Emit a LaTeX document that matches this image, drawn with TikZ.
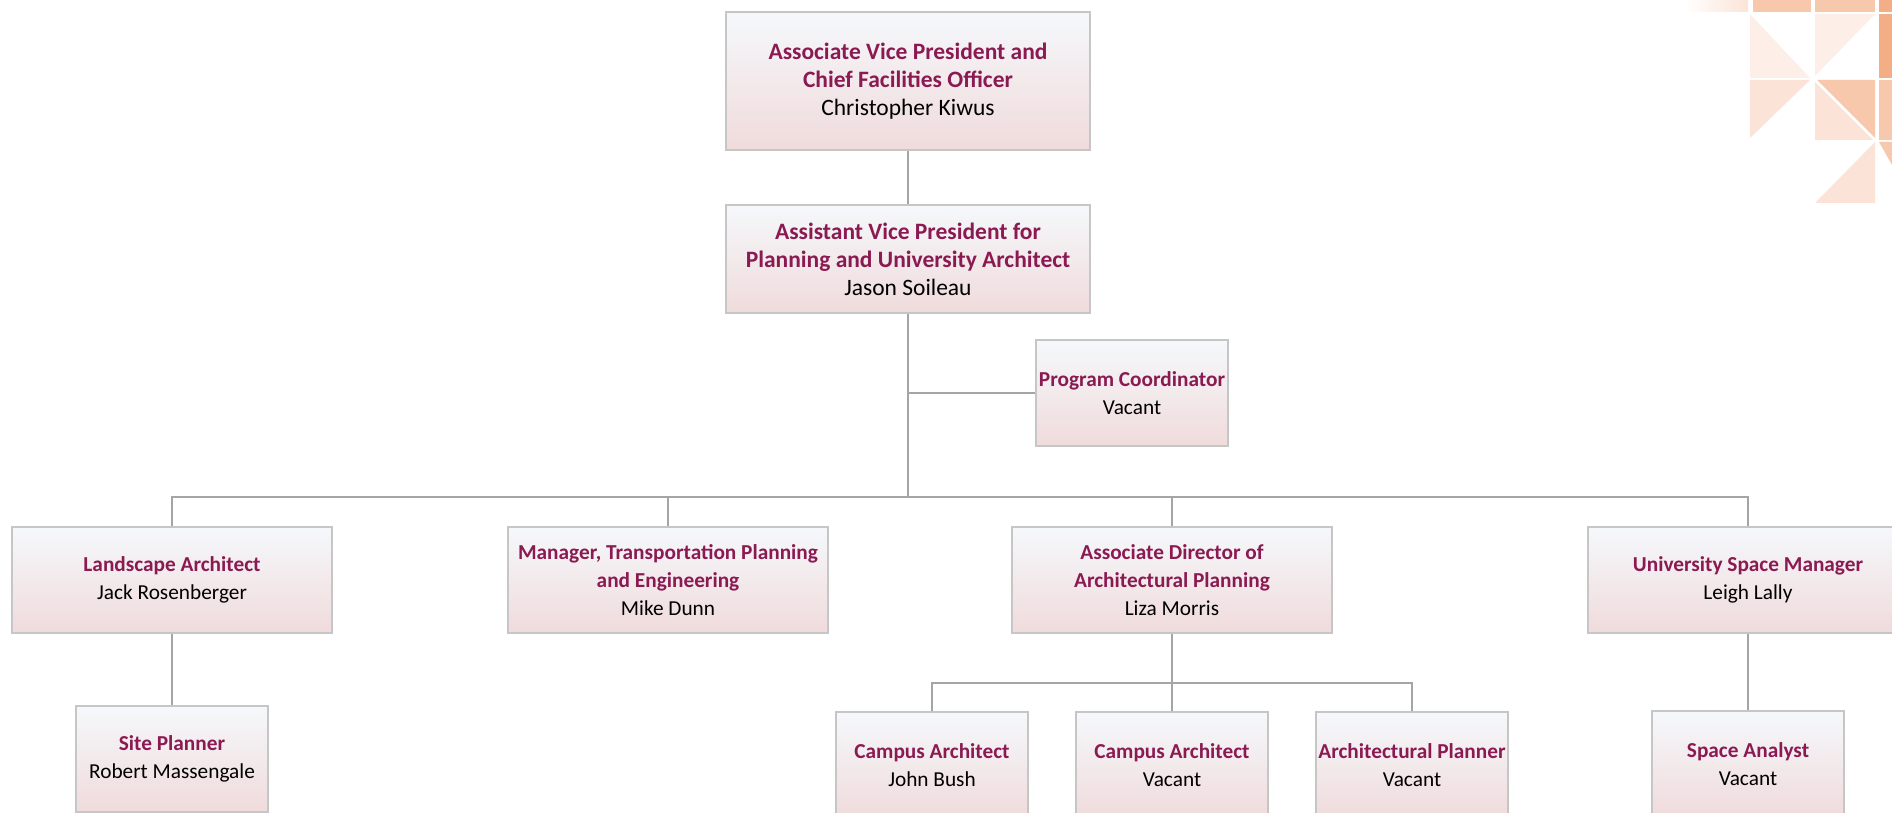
\documentclass[tikz,border=0pt]{standalone}
\usepackage{fontspec}
\setmainfont{Carlito}
\definecolor{ttlcol}{RGB}{139,26,82}
\definecolor{boxgray}{RGB}{198,198,198}
\definecolor{linegray}{RGB}{165,165,165}
\definecolor{boxtop}{RGB}{245,248,251}
\definecolor{boxbot}{RGB}{240,219,220}
\definecolor{orS}{RGB}{244,174,134}
\definecolor{orM}{RGB}{248,200,172}
\definecolor{orL}{RGB}{251,228,215}
\definecolor{orX}{RGB}{253,239,232}
\newcommand{\ttl}[1]{\textcolor{ttlcol}{\bfseries #1}}
\begin{document}
\begin{tikzpicture}[x=1pt,y=-1pt,
  box/.style={draw=boxgray, line width=2pt, top color=boxtop, bottom color=boxbot,
    align=center, inner sep=0pt, font=\fontsize{21.3}{28}\selectfont},
  wide/.style={box, minimum width=364pt, font=\fontsize{23.5}{28}\selectfont},
  mid/.style={box, minimum width=320pt, minimum height=106pt},
  small/.style={box, minimum width=192pt, minimum height=106pt},
  conn/.style={draw=linegray, line width=2pt}]
\useasboundingbox (0,0) rectangle (1892,813);
\clip (0,0) rectangle (1892,813);
\fill[white] (0,0) rectangle (1892,813);

% decoration top right
\shade[left color=white, right color=orL] (1685,0) rectangle (1748,12);
\fill[orM] (1753,0) rectangle (1811,12);
\fill[orM] (1815,0) rectangle (1875,12);
\fill[orS] (1879,0) rectangle (1892,12);
\fill[orX] (1750,14) -- (1750,78) -- (1810,78) -- cycle;
\fill[orX] (1815,14) -- (1875,14) -- (1815,76) -- cycle;
\fill[orS] (1879,14) -- (1892,14) -- (1892,78) -- (1879,78) -- cycle;
\fill[orL] (1750,80) -- (1810,80) -- (1750,138) -- cycle;
\fill[orM] (1817,80) -- (1875,80) -- (1875,138) -- cycle;
\fill[orL] (1815,82) -- (1815,140) -- (1873,140) -- cycle;
\fill[orM] (1879,80) -- (1892,80) -- (1892,140) -- (1879,140) -- cycle;
\fill[orL] (1875,142) -- (1875,203) -- (1815,203) -- cycle;
\fill[orM] (1879,142) -- (1892,142) -- (1892,165) -- cycle;

% nodes
\node[wide, minimum height=138pt] (avp) at (908,81)
  {\ttl{Associate Vice President and}\\ \ttl{Chief Facilities Officer}\\ Christopher Kiwus};
\node[wide, minimum height=107pt] (asst) at (908,259)
  {\ttl{Assistant Vice President for}\\ \ttl{Planning and University Architect}\\ Jason Soileau};
\node[small] (pc) at (1132,393) {\ttl{Program Coordinator}\\ Vacant};
\node[mid] (land) at (172,580) {\ttl{Landscape Architect}\\ Jack Rosenberger};
\node[mid] (mgr) at (668,580) {\ttl{Manager, Transportation Planning}\\ \ttl{and Engineering}\\ Mike Dunn};
\node[mid] (assoc) at (1172,580) {\ttl{Associate Director of}\\ \ttl{Architectural Planning}\\ Liza Morris};
\node[mid] (usm) at (1748,580) {\ttl{University Space Manager}\\ Leigh Lally};
\node[small] (site) at (172,759) {\ttl{Site Planner}\\ Robert Massengale};
\node[small] (ca1) at (932,765) {\ttl{Campus Architect}\\ John Bush};
\node[small] (ca2) at (1172,765) {\ttl{Campus Architect}\\ Vacant};
\node[small] (ap) at (1412,765) {\ttl{Architectural Planner}\\ Vacant};
\node[small] (sa) at (1748,764) {\ttl{Space Analyst}\\ Vacant};

\coordinate (bus) at (908,497);
\coordinate (bus2) at (1172,683);

% connectors
\draw[conn] (avp.south) -- (asst.north);
\draw[conn] (asst.south) -- (bus);
\draw[conn] (asst.south |- pc.west) -- (pc.west);
\draw[conn] (land.north) |- (bus) -| (usm.north);
\draw[conn] (mgr.north) -- (mgr.north |- bus);
\draw[conn] (assoc.north) -- (assoc.north |- bus);
\draw[conn] (land.south) -- (site.north);
\draw[conn] (usm.south) -- (sa.north);
\draw[conn] (assoc.south) -- (bus2);
\draw[conn] (ca1.north) |- (bus2) -| (ap.north);
\draw[conn] (ca2.north) -- (ca2.north |- bus2);
\end{tikzpicture}
\end{document}
